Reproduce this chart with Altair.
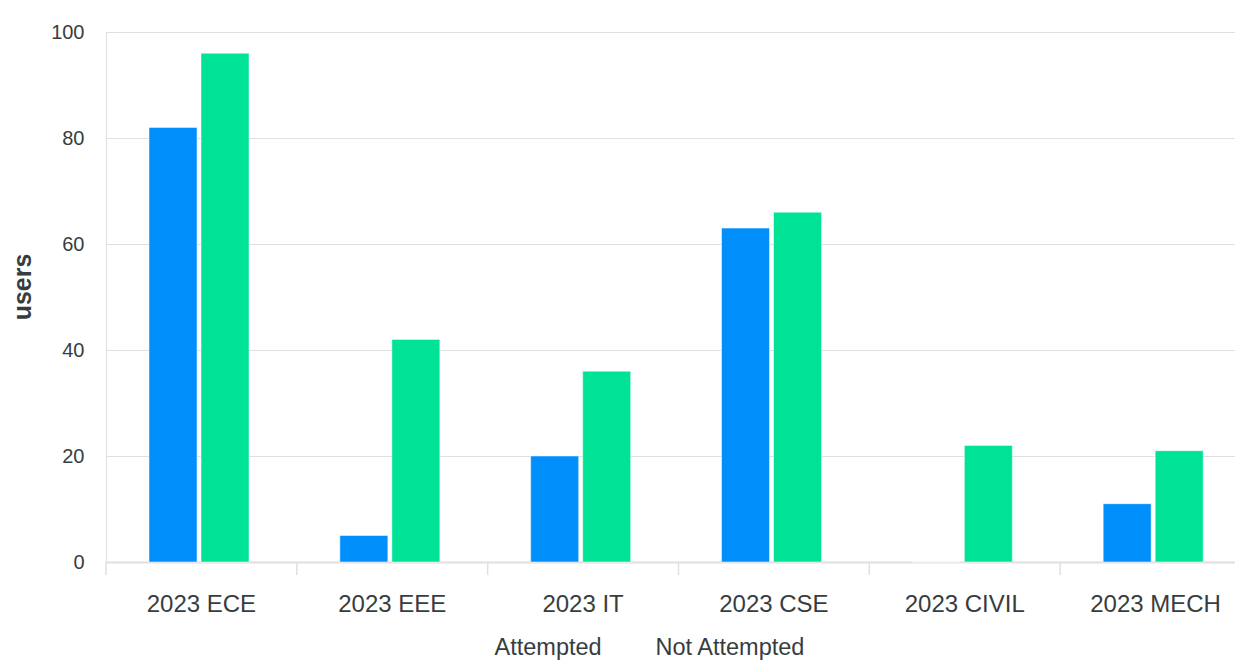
import altair as alt
import pandas as pd

categories = ["2023 ECE", "2023 EEE", "2023 IT", "2023 CSE", "2023 CIVIL", "2023 MECH"]
series_names = ["Attempted", "Not Attempted"]
attempted = [82, 5, 20, 63, 0, 11]
not_attempted = [96, 42, 36, 66, 22, 21]
colors = ["#008FFB", "#00E396"]
y_ticks = [0, 20, 40, 60, 80, 100]

rows = []
for c, a, n in zip(categories, attempted, not_attempted):
    rows.append({"cat": c, "series": series_names[0], "users": a})
    rows.append({"cat": c, "series": series_names[1], "users": n})
df = pd.DataFrame(rows)
cat_df = pd.DataFrame({"cat": categories})

FONT = "Liberation Sans"
TXT = "#373d3f"
GRID = "#e0e0e0"

xscale = alt.Scale(domain=categories, paddingInner=0, paddingOuter=0, range=[0, 1145])

bars = alt.Chart(df).mark_bar(stroke="white", strokeWidth=0.5).encode(
    x=alt.X("cat:N", sort=categories, scale=xscale,
            axis=alt.Axis(title=None, labelAngle=0, labelFontSize=24, labelColor=TXT,
                          labelFont=FONT, tickSize=0, labelPadding=30,
                          domainColor=GRID, domainWidth=2, grid=False)),
    xOffset=alt.XOffset("series:N", sort=series_names,
                        scale=alt.Scale(domain=series_names, paddingInner=0.0769,
                                        paddingOuter=0.873, align=0.4736)),
    y=alt.Y("users:Q", scale=alt.Scale(domain=[0, 100], nice=False),
            axis=alt.Axis(values=y_ticks, title="users", titleFontSize=25, titleFontWeight="bold",
                          titleColor=TXT, titleFont=FONT, titlePadding=15, titleY=254.5,
                          labelFontSize=20, labelColor=TXT, labelFont=FONT,
                          labelPadding=22, tickSize=0, domain=False,
                          gridColor=GRID, gridWidth=1)),
    color=alt.Color("series:N", sort=series_names,
                    scale=alt.Scale(domain=series_names, range=colors),
                    legend=alt.Legend(title=None, orient="none", direction="horizontal",
                                      legendX=365, legendY=604,
                                      symbolOpacity=0, symbolSize=1, symbolStrokeWidth=0,
                                      labelOffset=0, columnPadding=30,
                                      labelFontSize=23.5, labelColor=TXT, labelFont=FONT)),
)

ticks = alt.Chart(cat_df).mark_rule(color=GRID, strokeWidth=1.5).encode(
    x=alt.X("cat:N", sort=categories, scale=xscale, bandPosition=0),
    y=alt.value(530),
    y2=alt.value(543),
)

chart = alt.layer(bars, ticks).properties(
    width=1129, height=530,
    autosize=alt.AutoSizeParams(type="none"),
    padding={"left": 98, "top": 24, "right": 0, "bottom": 99},
).configure_view(stroke=None).configure(font=FONT)

chart.save("out.html", embed_options={"renderer": "svg", "actions": False})
